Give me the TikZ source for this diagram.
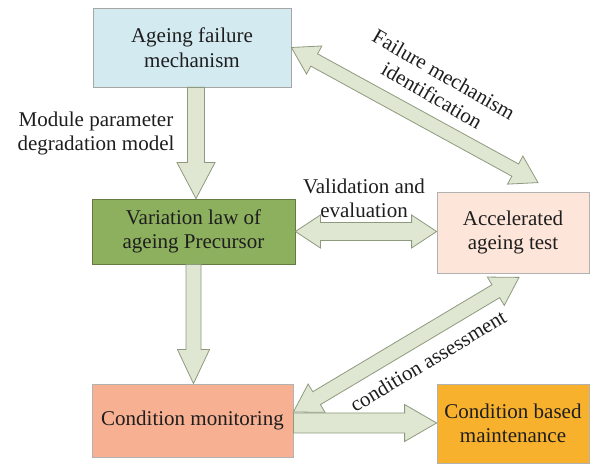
\documentclass[tikz,border=0pt]{standalone}
\usepackage{fontspec}
\setmainfont{Liberation Serif}
\usetikzlibrary{calc}

\definecolor{boxblue}{HTML}{D3EAF1}
\definecolor{boxgreen}{HTML}{8DB05F}
\definecolor{boxpeach}{HTML}{FDE5D9}
\definecolor{boxsalmon}{HTML}{F8B092}
\definecolor{boxorange}{HTML}{F8B12C}
\definecolor{arrowfill}{HTML}{DFE7D2}
\definecolor{arrowedge}{HTML}{8E9A7E}
\definecolor{inkgray}{HTML}{1E1E1E}

\tikzset{
  x=1pt, y=1pt,
  box/.style={rectangle, draw=#1, line width=0.8pt, align=center, inner sep=0pt,
    font=\fontsize{21}{24.5}\selectfont, text=inkgray},
  lbl/.style={align=center, inner sep=0pt,
    font=\fontsize{21}{24}\selectfont, text=inkgray},
  blk/.style={draw=arrowedge, fill=arrowfill, line width=0.8pt, line join=miter},
}

% block arrow: #1 tail, #2 tip, #3 shaft half width, #4 head half width, #5 head length
\newcommand\onewayarrow[5]{%
  \draw[blk] ($(#1)!#3!90:(#2)$) -- ($(#2)!#5!(#1)!#3!-90:(#1)$)
    -- ($(#2)!#5!(#1)!#4!-90:(#1)$) -- (#2)
    -- ($(#2)!#5!(#1)!#4!90:(#1)$) -- ($(#2)!#5!(#1)!#3!90:(#1)$)
    -- ($(#1)!#3!-90:(#2)$) -- cycle;}
% double-headed block arrow between #1 and #2
\newcommand\twowayarrow[5]{%
  \draw[blk] (#1) -- ($(#1)!#5!(#2)!#4!90:(#2)$) -- ($(#1)!#5!(#2)!#3!90:(#2)$)
    -- ($(#2)!#5!(#1)!#3!-90:(#1)$) -- ($(#2)!#5!(#1)!#4!-90:(#1)$) -- (#2)
    -- ($(#2)!#5!(#1)!#4!90:(#1)$) -- ($(#2)!#5!(#1)!#3!90:(#1)$)
    -- ($(#1)!#5!(#2)!#3!-90:(#2)$) -- ($(#1)!#5!(#2)!#4!-90:(#2)$) -- cycle;}

\begin{document}
\begin{tikzpicture}
\useasboundingbox[fill=white] (0,0) rectangle (590,465);

% process blocks
\node[box=gray!70, fill=boxblue, minimum width=198pt, minimum height=79pt]
  (age) at (192,417.5) {Ageing failure\\mechanism};
\node[box=boxgreen!70!black, fill=boxgreen, minimum width=203pt, minimum height=65pt]
  (var) at (193.5,233.5) {Variation law of\\ageing Precursor};
\node[box=gray!60, fill=boxpeach, minimum width=152pt, minimum height=81pt]
  (acc) at (513,232.5) {Accelerated\\ageing test};
\node[box=gray!60, fill=boxsalmon, minimum width=201pt, minimum height=73pt]
  (cm) at (192.5,44.5) {Condition monitoring};
\node[box=gray!60, fill=boxorange, minimum width=152pt, minimum height=79pt]
  (cbm) at (513,41.5) {Condition based\\maintenance};

% arrow end points
\coordinate (a1s) at ([xshift=4pt]age.south);
\coordinate (a1e) at (a1s |- var.north);
\coordinate (a2s) at (var.south);
\coordinate (a2e) at (a2s |- cm.north);
\coordinate (a3s) at (var.east);
\coordinate (a3e) at (a3s -| acc.west);
\coordinate (a4s) at ([yshift=-2.5pt]cm.east);
\coordinate (a4e) at (a4s -| cbm.west);
\coordinate (a5s) at (age.east);
\coordinate (a5e) at ([xshift=25pt,yshift=9pt]acc.north);
\coordinate (a6s) at ([yshift=8.5pt]cm.east);
\coordinate (a6e) at ([xshift=6pt,yshift=-4pt]acc.south);

% connectors
\onewayarrow{a1s}{a1e}{8.5pt}{19pt}{36pt}
\onewayarrow{a2s}{a2e}{7.5pt}{16pt}{34pt}
\twowayarrow{a3s}{a3e}{9pt}{16.5pt}{25pt}
\onewayarrow{a4s}{a4e}{10pt}{18.5pt}{32pt}
\twowayarrow{a5s}{a5e}{7pt}{16pt}{26pt}
\twowayarrow{a6s}{a6e}{7.5pt}{16.5pt}{27pt}

% connector labels
\node[lbl] (l1) at (96,332) {Module parameter\\degradation model};
\node[lbl] (l2) at (364,267) {Validation and\\evaluation};
\node[lbl, rotate=-30] (l3) at (438,380) {Failure mechanism\\identification};
\node[lbl, rotate=31] (l4) at (428,104) {condition assessment};
\end{tikzpicture}
\end{document}
